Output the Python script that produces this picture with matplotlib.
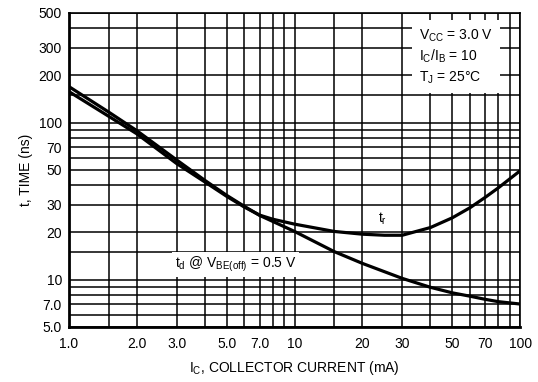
import matplotlib
matplotlib.use('Agg')
import matplotlib.pyplot as plt
import numpy as np

plt.rcParams['font.family'] = ['Liberation Sans', 'DejaVu Sans']
plt.rcParams['mathtext.default'] = 'regular'

#%% data
ic_td = [1, 1.5, 2, 3, 4, 5, 6, 7, 10, 15, 20, 30, 40, 50, 60, 70, 80, 100]
td = [170, 117, 89, 58, 43, 34.5, 29.3, 25.7, 20.3, 15.1, 12.7, 10.2, 8.95, 8.25, 7.85, 7.5, 7.25, 7.0]

ic_tr = [1, 1.5, 2, 3, 4, 5, 6, 7, 8, 10, 15, 20, 25, 30, 40, 50, 60, 70, 80, 100]
tr = [158, 110, 85, 55, 42, 34, 29, 25.8, 24.3, 22.6, 20.3, 19.5, 19.2, 19.2, 21.5, 24.8, 28.8, 33.5, 38.5, 49.5]

x_grid = [1, 1.5, 2, 3, 4, 5, 6, 7, 8, 9, 10, 15, 20, 30, 40, 50, 60, 70, 80, 90, 100]
y_grid = [5, 6, 7, 8, 9, 10, 15, 20, 30, 40, 50, 60, 70, 80, 90, 100, 150, 200, 300, 400, 500]

x_ticks = [1, 2, 3, 5, 7, 10, 20, 30, 50, 70, 100]
x_labels = ['1.0', '2.0', '3.0', '5.0', '7.0', '10', '20', '30', '50', '70', '100']
y_ticks = [5, 7, 10, 20, 30, 50, 70, 100, 200, 300, 500]
y_labels = ['5.0', '7.0', '10', '20', '30', '50', '70', '100', '200', '300', '500']

#%% figure
fig = plt.figure(figsize=(5.38, 3.82), dpi=100)
ax = fig.add_axes([0.128, 0.144, 0.839, 0.822])
ax.set_xscale('log')
ax.set_yscale('log')
ax.set_xlim(1, 100)
ax.set_ylim(5, 500)

for xv in x_grid:
    ax.axvline(xv, color='k', lw=1.1, zorder=1)
for yv in y_grid:
    ax.axhline(yv, color='k', lw=1.1, zorder=1)

ax.plot(ic_td, td, color='k', lw=2.3, zorder=3, solid_joinstyle='round')
ax.plot(ic_tr, tr, color='k', lw=2.3, zorder=3, solid_joinstyle='round')

ax.set_xticks(x_ticks)
ax.set_xticklabels(x_labels)
ax.set_yticks(y_ticks)
ax.set_yticklabels(y_labels)
ax.minorticks_off()
ax.tick_params(length=0, labelsize=10, pad=5)
ax.tick_params(axis='x', pad=7)

for s in ['left', 'bottom']:
    ax.spines[s].set_linewidth(2.0)
for s in ['top', 'right']:
    ax.spines[s].set_linewidth(1.2)

ax.set_xlabel('I$_{C}$, COLLECTOR CURRENT (mA)', fontsize=10, labelpad=6)
ax.set_ylabel('t, TIME (ns)', fontsize=10, labelpad=4)

box = dict(facecolor='white', edgecolor='none', pad=2)
ax.text(0.775, 0.955, 'V$_{CC}$ = 3.0 V\nI$_{C}$/I$_{B}$ = 10\nT$_{J}$ = 25°C',
        transform=ax.transAxes, ha='left', va='top', fontsize=10,
        linespacing=1.35, bbox=dict(facecolor='white', edgecolor='none', pad=5), zorder=2)
ax.text(0.235, 0.20, 't$_{d}$ @ V$_{BE(off)}$ = 0.5 V', transform=ax.transAxes,
        ha='left', va='center', fontsize=10, bbox=box, zorder=2)
ax.text(0.685, 0.345, 't$_{r}$', transform=ax.transAxes,
        ha='left', va='center', fontsize=10, bbox=box, zorder=2)

fig.savefig('out.png', dpi=100)
